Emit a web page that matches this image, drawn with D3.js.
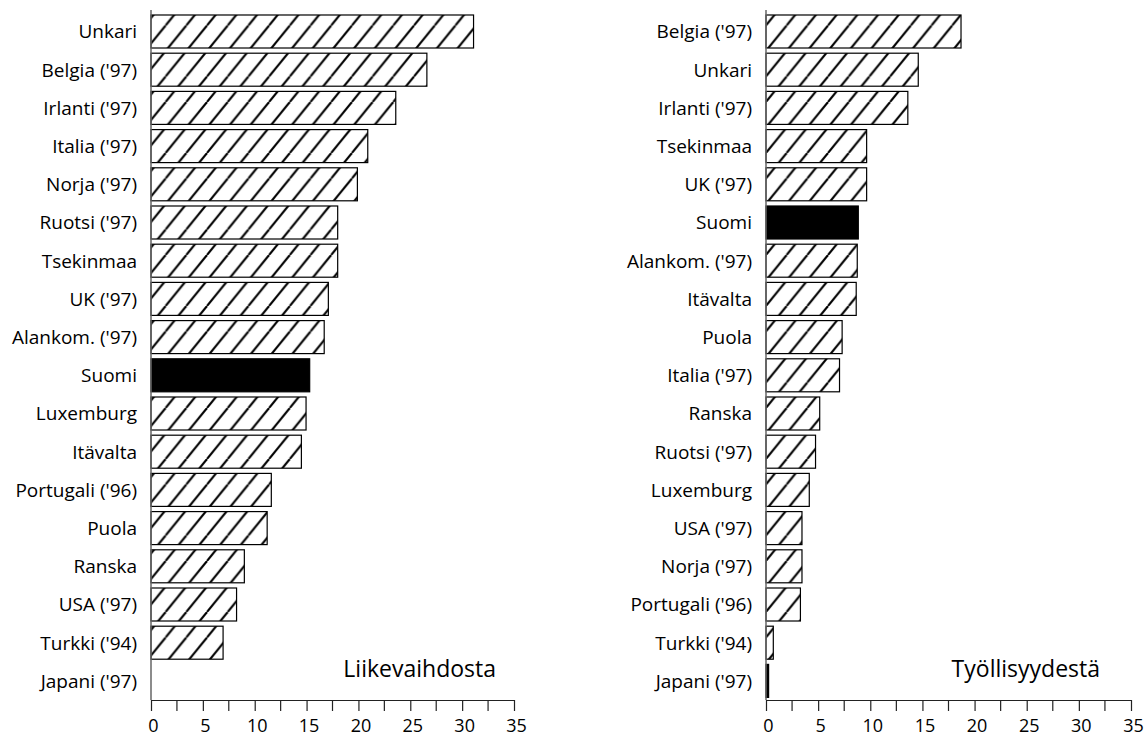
<!DOCTYPE html>
<html><head><meta charset="utf-8">
<script src="https://cdn.jsdelivr.net/npm/d3@7"></script>
<style>body{margin:0;background:#fff}svg{display:block}text{font-family:"Open Sans","Noto Sans",sans-serif;fill:#000}</style>
</head><body>
<svg id="c" width="1146" height="740"></svg>
<script>
const leftCategories = ["Unkari","Belgia ('97)","Irlanti ('97)","Italia ('97)","Norja ('97)","Ruotsi ('97)","Tsekinmaa","UK ('97)","Alankom. ('97)","Suomi","Luxemburg","Itävalta","Portugali ('96)","Puola","Ranska","USA ('97)","Turkki ('94)","Japani ('97)"];
const leftValues = [31.1,26.6,23.6,20.9,19.9,18.0,18.0,17.1,16.7,15.3,14.95,14.5,11.6,11.2,9.0,8.25,6.95,0];
const rightCategories = ["Belgia ('97)","Unkari","Irlanti ('97)","Tsekinmaa","UK ('97)","Suomi","Alankom. ('97)","Itävalta","Puola","Italia ('97)","Ranska","Ruotsi ('97)","Luxemburg","USA ('97)","Norja ('97)","Portugali ('96)","Turkki ('94)","Japani ('97)"];
const rightValues = [18.7,14.6,13.6,9.65,9.65,8.85,8.75,8.65,7.3,7.05,5.15,4.75,4.15,3.45,3.45,3.3,0.7,0.25];
const xTicks = [0,5,10,15,20,25,30,35];
const minorTicks = [2.5,7.5,12.5,17.5,22.5,27.5,32.5];
const highlight = "Suomi";
const titles = ["Liikevaihdosta","Työllisyydestä"];

const svg = d3.select("#c");
const defs = svg.append("defs");
const pw = 20.7, ph = 25.5;
const pat = defs.append("pattern").attr("id","hatch").attr("patternUnits","userSpaceOnUse")
  .attr("width",pw).attr("height",ph);
pat.append("rect").attr("width",pw).attr("height",ph).attr("fill","#fff");
[[-pw,0],[0,0],[pw,0]].forEach(([dx])=>{
  pat.append("line").attr("x1",dx).attr("y1",ph).attr("x2",dx+pw).attr("y2",0)
    .attr("stroke","#000").attr("stroke-width",2.1);
});

function panel(cfg){
  const x = d3.scaleLinear().domain([0,35]).range([cfg.x0,cfg.x1]);
  const y = d3.scaleBand().domain(cfg.cats).range([12.4,700]).paddingInner(0.136).paddingOuter(0.068);
  const g = svg.append("g");
  const data = cfg.cats.map((c,i)=>({c,v:cfg.vals[i]}));
  g.selectAll("rect.bar").data(data.filter(d=>d.v>0)).join("rect").attr("class","bar")
    .attr("x",x(0)).attr("y",d=>y(d.c)).attr("width",d=>x(d.v)-x(0)).attr("height",y.bandwidth())
    .attr("fill",d=>d.c===highlight||d.v<0.5?"#000":"url(#hatch)")
    .attr("stroke","#000").attr("stroke-width",1.2);
  g.selectAll("text.cat").data(cfg.cats).join("text").attr("class","cat")
    .attr("x",x(0)-14).attr("y",d=>y(d)+y.bandwidth()/2).attr("dy","0.36em")
    .attr("text-anchor","end").attr("font-size",19).text(d=>d);
  g.append("line").attr("x1",x(0)).attr("x2",x(0)).attr("y1",10).attr("y2",700)
    .attr("stroke","#666").attr("stroke-width",1.5);
  const ax = g.append("g").attr("transform","translate(0,700)")
    .call(d3.axisBottom(x).tickValues(xTicks).tickSize(11).tickSizeOuter(0).tickPadding(8).tickFormat(d3.format("d")));
  ax.select(".domain").attr("stroke","#222").attr("stroke-width",1.2);
  ax.selectAll(".tick line").attr("stroke","#222").attr("stroke-width",1.2);
  ax.selectAll(".tick text").attr("font-size",18).attr("dx",2).attr("font-family","'Open Sans','Noto Sans',sans-serif").attr("fill","#000");
  ax.selectAll("line.minor").data(minorTicks).join("line").attr("class","minor")
    .attr("x1",d=>x(d)).attr("x2",d=>x(d)).attr("y1",0).attr("y2",11)
    .attr("stroke","#222").attr("stroke-width",1.2);
  g.append("text").attr("x",cfg.tx).attr("y",677).attr("text-anchor","end")
    .attr("font-size",23).text(cfg.title);
}
panel({cats:leftCategories, vals:leftValues, x0:151, x1:514, title:titles[0], tx:496});
panel({cats:rightCategories, vals:rightValues, x0:766, x1:1131, title:titles[1], tx:1100});
</script>
</body></html>
